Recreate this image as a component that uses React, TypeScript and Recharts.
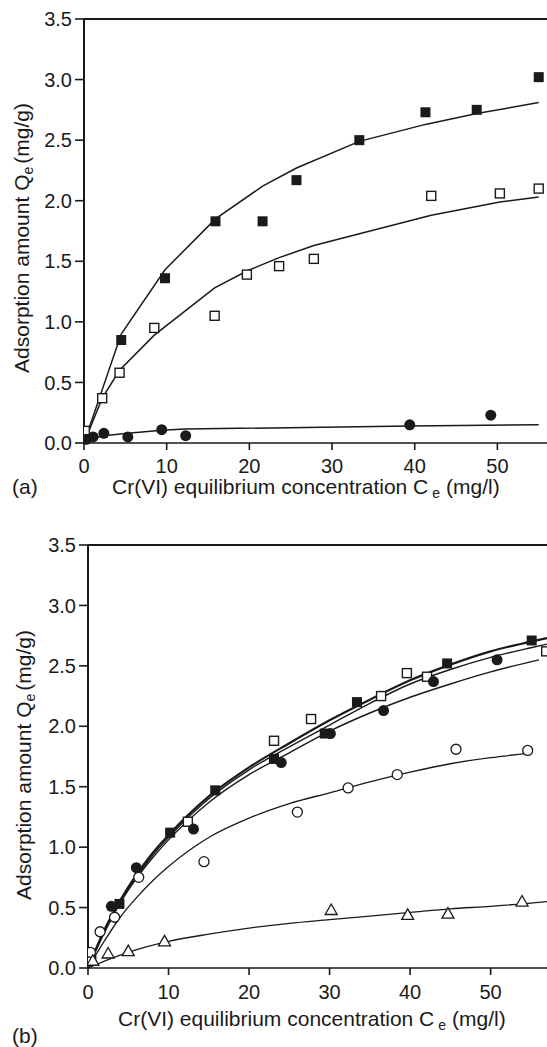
import {
  ComposedChart, Scatter, Line, XAxis, YAxis, ReferenceLine,
} from 'recharts'

// ---- panel (a) ----
const aFilledSqX = [4.5, 9.8, 15.9, 21.6, 25.7, 33.3, 41.3, 47.5, 55.0]
const aFilledSqY = [0.85, 1.36, 1.83, 1.83, 2.17, 2.50, 2.73, 2.75, 3.02]
const aOpenSqX = [0.1, 2.2, 4.3, 8.5, 15.8, 19.7, 23.6, 27.8, 42.0, 50.3, 55.0]
const aOpenSqY = [0.10, 0.37, 0.58, 0.95, 1.05, 1.39, 1.46, 1.52, 2.04, 2.06, 2.10]
const aFilledCircX = [0.3, 1.1, 2.4, 5.3, 9.4, 12.3, 39.4, 49.2]
const aFilledCircY = [0.03, 0.05, 0.08, 0.05, 0.11, 0.06, 0.15, 0.23]

const aFitSqX = [0, 4.5, 9.8, 15.9, 21.6, 25.7, 33.3, 41.3, 47.5, 55.0]
const aFitSqY = [0, 0.9, 1.43, 1.85, 2.12, 2.27, 2.49, 2.63, 2.72, 2.81]
const aFitOpenX = [0, 2.2, 4.3, 8.5, 15.8, 19.7, 23.6, 27.8, 42.0, 50.3, 55.0]
const aFitOpenY = [0, 0.37, 0.6, 0.89, 1.28, 1.42, 1.53, 1.63, 1.88, 1.99, 2.03]
const aFitCircX = [0, 1.1, 2.4, 5.3, 9.4, 12.3, 39.4, 55.0]
const aFitCircY = [0, 0.04, 0.06, 0.08, 0.105, 0.115, 0.14, 0.15]

// ---- panel (b) ----
const bFilledSqX = [3.9, 10.2, 15.8, 23.1, 29.4, 33.4, 44.6, 55.1]
const bFilledSqY = [0.53, 1.12, 1.47, 1.73, 1.94, 2.20, 2.52, 2.71]
const bOpenSqX = [0.4, 12.4, 23.1, 27.7, 36.4, 39.6, 42.1, 56.9]
const bOpenSqY = [0.06, 1.21, 1.88, 2.06, 2.25, 2.44, 2.41, 2.62]
const bFilledCircX = [2.9, 6.0, 13.1, 24.0, 30.1, 36.7, 42.9, 50.8]
const bFilledCircY = [0.51, 0.83, 1.15, 1.70, 1.94, 2.13, 2.37, 2.55]
const bOpenCircX = [0.3, 1.5, 3.3, 6.3, 14.4, 26.0, 32.3, 38.4, 45.7, 54.6]
const bOpenCircY = [0.13, 0.30, 0.42, 0.75, 0.88, 1.29, 1.49, 1.60, 1.81, 1.80]
const bTriX = [0.6, 2.5, 5.0, 9.5, 30.2, 39.7, 44.7, 53.9]
const bTriY = [0.06, 0.12, 0.14, 0.22, 0.48, 0.44, 0.45, 0.55]

const bFitX = [0, 2, 4, 6, 8, 10, 15, 20, 25, 30, 35, 40, 45, 50, 55, 57]
const bFitSqY = [0, 0.31, 0.56, 0.77, 0.95, 1.1, 1.42, 1.66, 1.86, 2.05, 2.22, 2.38, 2.51, 2.62, 2.70, 2.73]
const bFitOpenSqY = [0, 0.29, 0.54, 0.75, 0.93, 1.08, 1.40, 1.64, 1.83, 2.01, 2.19, 2.35, 2.47, 2.57, 2.65, 2.68]
const bFitCircX = [0, 2, 4, 6, 8, 10, 15, 20, 25, 30, 35, 40, 45, 50, 56]
const bFitCircY = [0, 0.29, 0.54, 0.74, 0.91, 1.06, 1.37, 1.60, 1.78, 1.96, 2.11, 2.24, 2.35, 2.45, 2.55]
const bFitOpenCircX = [0, 2, 4, 6, 8, 10, 15, 20, 25, 30, 35, 40, 45, 50, 55]
const bFitOpenCircY = [0, 0.22, 0.42, 0.58, 0.72, 0.84, 1.08, 1.24, 1.36, 1.45, 1.54, 1.62, 1.69, 1.74, 1.78]
const bFitTriX = [0, 2.5, 5, 10, 15, 20, 25, 30, 35, 40, 45, 50, 57]
const bFitTriY = [0, 0.07, 0.13, 0.22, 0.28, 0.33, 0.37, 0.40, 0.43, 0.46, 0.49, 0.51, 0.55]

const xTicks = [0, 10, 20, 30, 40, 50]
const yTicks = [0, 0.5, 1, 1.5, 2, 2.5, 3, 3.5]

const INK = '#1a1a1a'
const FONT = '"Liberation Sans", Arial, sans-serif'

const pts = (xs: number[], ys: number[]) => xs.map((x, i) => ({ x, y: ys[i] }))

const FilledSquare = (p: any) => (
  <rect x={p.cx - 5} y={p.cy - 5} width={10} height={10} fill={INK} />
)
const OpenSquare = (p: any) => (
  <rect x={p.cx - 4.5} y={p.cy - 4.5} width={9} height={9} fill="#fff" stroke={INK} strokeWidth={1.4} />
)
const FilledCircle = (p: any) => <circle cx={p.cx} cy={p.cy} r={5.5} fill={INK} />
const OpenCircle = (p: any) => (
  <circle cx={p.cx} cy={p.cy} r={5} fill="#fff" stroke={INK} strokeWidth={1.3} />
)
const Triangle = (p: any) => (
  <polygon
    points={`${p.cx},${p.cy - 6} ${p.cx - 6},${p.cy + 4.5} ${p.cx + 6},${p.cy + 4.5}`}
    fill="#fff" stroke={INK} strokeWidth={1.3}
  />
)

const tickStyle = { fontSize: 20, fill: INK, fontFamily: FONT }

function PanelA() {
  return (
    <ComposedChart width={547} height={500} margin={{ top: 19, right: 0, bottom: 27, left: 0 }}>
      <XAxis
        type="number" dataKey="x" domain={[0, 56]} ticks={xTicks} allowDataOverflow
        height={30} tickSize={7} tickMargin={9} tick={tickStyle}
        axisLine={{ stroke: INK, strokeWidth: 1.6 }} tickLine={{ stroke: INK, strokeWidth: 1.6 }}
      />
      <YAxis
        type="number" dataKey="y" domain={[0, 3.5]} ticks={yTicks} width={84}
        tickSize={9} tickMargin={3} tick={tickStyle} tickFormatter={(v: number) => v.toFixed(1)}
        axisLine={{ stroke: INK, strokeWidth: 2 }} tickLine={{ stroke: INK, strokeWidth: 1.6 }}
      />
      <ReferenceLine y={3.5} stroke={INK} strokeWidth={2} />
      <Line data={pts(aFitSqX, aFitSqY)} dataKey="y" type="linear" stroke={INK} strokeWidth={1.5} dot={false} activeDot={false} isAnimationActive={false} />
      <Line data={pts(aFitOpenX, aFitOpenY)} dataKey="y" type="linear" stroke={INK} strokeWidth={1.5} dot={false} activeDot={false} isAnimationActive={false} />
      <Line data={pts(aFitCircX, aFitCircY)} dataKey="y" type="linear" stroke={INK} strokeWidth={1.5} dot={false} activeDot={false} isAnimationActive={false} />
      <Scatter data={pts(aFilledSqX, aFilledSqY)} dataKey="y" shape={FilledSquare} isAnimationActive={false} />
      <Scatter data={pts(aOpenSqX, aOpenSqY)} dataKey="y" shape={OpenSquare} isAnimationActive={false} />
      <Scatter data={pts(aFilledCircX, aFilledCircY)} dataKey="y" shape={FilledCircle} isAnimationActive={false} />
    </ComposedChart>
  )
}

function PanelB() {
  return (
    <ComposedChart width={547} height={500} margin={{ top: 18, right: 0, bottom: 29, left: 0 }}>
      <XAxis
        type="number" dataKey="x" domain={[0, 57]} ticks={xTicks} allowDataOverflow
        height={30} tickSize={7} tickMargin={10} tick={tickStyle}
        axisLine={{ stroke: INK, strokeWidth: 1.6 }} tickLine={{ stroke: INK, strokeWidth: 1.6 }}
      />
      <YAxis
        type="number" dataKey="y" domain={[0, 3.5]} ticks={yTicks} width={88}
        tickSize={9} tickMargin={3} tick={tickStyle} tickFormatter={(v: number) => v.toFixed(1)}
        axisLine={{ stroke: INK, strokeWidth: 2 }} tickLine={{ stroke: INK, strokeWidth: 1.6 }}
      />
      <ReferenceLine y={3.5} stroke={INK} strokeWidth={2} />
      <Line data={pts(bFitX, bFitSqY)} dataKey="y" type="monotone" stroke={INK} strokeWidth={2.2} dot={false} activeDot={false} isAnimationActive={false} />
      <Line data={pts(bFitX, bFitOpenSqY)} dataKey="y" type="monotone" stroke={INK} strokeWidth={1.4} dot={false} activeDot={false} isAnimationActive={false} />
      <Line data={pts(bFitCircX, bFitCircY)} dataKey="y" type="monotone" stroke={INK} strokeWidth={1.4} dot={false} activeDot={false} isAnimationActive={false} />
      <Line data={pts(bFitOpenCircX, bFitOpenCircY)} dataKey="y" type="monotone" stroke={INK} strokeWidth={1.3} dot={false} activeDot={false} isAnimationActive={false} />
      <Line data={pts(bFitTriX, bFitTriY)} dataKey="y" type="monotone" stroke={INK} strokeWidth={1.3} dot={false} activeDot={false} isAnimationActive={false} />
      <Scatter data={pts(bFilledSqX, bFilledSqY)} dataKey="y" shape={FilledSquare} isAnimationActive={false} />
      <Scatter data={pts(bOpenSqX, bOpenSqY)} dataKey="y" shape={OpenSquare} isAnimationActive={false} />
      <Scatter data={pts(bFilledCircX, bFilledCircY)} dataKey="y" shape={FilledCircle} isAnimationActive={false} />
      <Scatter data={pts(bOpenCircX, bOpenCircY)} dataKey="y" shape={OpenCircle} isAnimationActive={false} />
      <Scatter data={pts(bTriX, bTriY)} dataKey="y" shape={Triangle} isAnimationActive={false} />
    </ComposedChart>
  )
}

const sub = { fontSize: 14, position: 'relative' as const, top: 4 }

function XTitle({ left, top }: { left: number; top: number }) {
  return (
    <div style={{ position: 'absolute', left, top, fontSize: 21, whiteSpace: 'nowrap', color: INK }}>
      Cr(VI) equilibrium concentration C<span style={{ ...sub, marginLeft: 4, marginRight: 6 }}>e</span>(mg/l)
    </div>
  )
}

function YTitle({ cx, cy }: { cx: number; cy: number }) {
  return (
    <div style={{
      position: 'absolute', left: cx, top: cy, fontSize: 21, whiteSpace: 'nowrap', color: INK,
      transform: 'translate(-50%, -50%) rotate(-90deg)',
    }}>
      Adsorption amount Q<span style={{ ...sub, marginRight: 3 }}>e</span>(mg/g)
    </div>
  )
}

export default function App() {
  return (
    <div style={{
      position: 'absolute', left: 0, top: 0, width: 547, height: 1047,
      overflow: 'hidden', background: '#fff', fontFamily: FONT,
    }}>
      <div style={{ position: 'absolute', left: 0, top: 0 }}><PanelA /></div>
      <div style={{ position: 'absolute', left: 0, top: 527 }}><PanelB /></div>
      <YTitle cx={22} cy={238} />
      <YTitle cx={24} cy={765} />
      <XTitle left={112} top={475} />
      <XTitle left={118} top={1007} />
      <div style={{ position: 'absolute', left: 12, top: 475, fontSize: 21, color: INK }}>(a)</div>
      <div style={{ position: 'absolute', left: 12, top: 1024, fontSize: 21, color: INK }}>(b)</div>
    </div>
  )
}
